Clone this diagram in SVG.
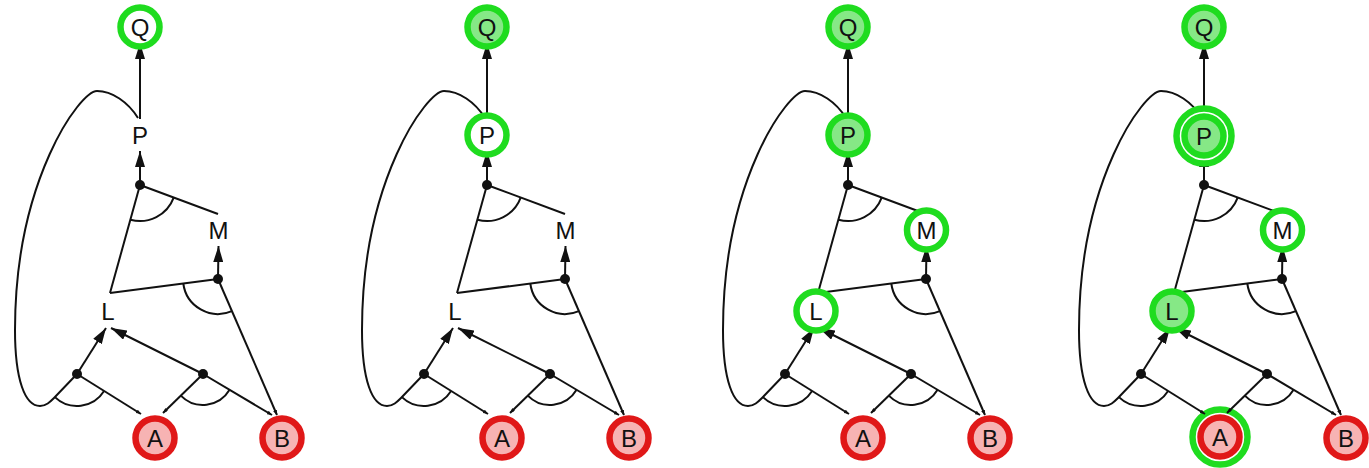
<svg xmlns="http://www.w3.org/2000/svg" width="1369" height="468" viewBox="0 0 1369 468">
<defs>
<marker id="ah" markerUnits="userSpaceOnUse" markerWidth="16" markerHeight="10" refX="16" refY="5" orient="auto"><path d="M0,0 L16,5 L0,10 z" fill="#111"/></marker>
<marker id="tm" markerUnits="userSpaceOnUse" markerWidth="5" markerHeight="4" refX="5" refY="2" orient="auto"><path d="M0,0 L5,2 L0,4 z" fill="#111"/></marker>
<style>
.edges path{fill:none;stroke:#111;stroke-width:2}
.edges circle{fill:#111}
.lbl{font-family:"Liberation Sans",Arial,sans-serif;font-size:24px;fill:#111;text-anchor:middle}
.ring{fill:#fff;stroke:#1fdc1f;stroke-width:6.5}
.fillg{fill:#86e886;stroke:#1fdc1f;stroke-width:6.5}
.red{fill:#f7b3b3;stroke:#e01818;stroke-width:6.5}
.hl{fill:#fff;stroke:#1fdc1f;stroke-width:6.5}
</style>
</defs>
<rect width="1369" height="468" fill="#fff"/>

<!-- Panel 1 -->
<g id="panel1">
<g id="p1-A"><circle class="red" cx="155" cy="438" r="19.5"/><text class="lbl" x="155" y="446.5">A</text></g>
<g id="p1-B"><circle class="red" cx="282" cy="438" r="19.5"/><text class="lbl" x="282" y="446.5">B</text></g>
<g id="p1-edges" class="edges">
<path d="M140,119 L140,43" marker-end="url(#ah)"/>
<path d="M138,118 C128,102 112,91 97,91 C80,91 15,180 15,330 C15,380 25,406 40,406 C46,406 50,402 54,398 L77,374"/>
<path d="M140,185 L140,151" marker-end="url(#ah)"/>
<path d="M110,293 L140,185"/>
<path d="M218,214 L140,185"/>
<path d="M218,279 L218.5,246" marker-end="url(#ah)"/>
<path d="M110,293 L218,279"/>
<path d="M218,279 L277,415" marker-end="url(#tm)"/>
<path d="M77,374 L106,328" marker-end="url(#ah)"/>
<path d="M203,374 L111,328" marker-end="url(#ah)"/>
<path d="M77,374 L141,414" marker-end="url(#tm)"/>
<path d="M203,374 L163,413" marker-end="url(#tm)"/>
<path d="M203,374 L272,415" marker-end="url(#tm)"/>
<path d="M54.9,397.1 A32,32 0 0 0 104.1,391"/>
<path d="M180.8,395.6 A31,31 0 0 0 229.6,389.8"/>
<path d="M183.3,283.5 A35,35 0 0 0 231.9,311.1"/>
<path d="M130.4,219.7 A36,36 0 0 0 173.7,197.6"/>
<circle cx="77" cy="374" r="5"/><circle cx="203" cy="374" r="5"/><circle cx="218" cy="279" r="5"/><circle cx="140" cy="185" r="5"/>
</g>
<g id="p1-Q"><circle class="ring" cx="140" cy="27" r="19.5"/><text class="lbl" x="140" y="35.5">Q</text></g>
<g id="p1-P"><text class="lbl" x="140" y="143.5">P</text></g>
<g id="p1-M"><text class="lbl" x="218.5" y="238.5">M</text></g>
<g id="p1-L"><text class="lbl" x="108" y="319.5">L</text></g>
</g>

<!-- Panel 2 -->
<g id="panel2" transform="translate(347,0)">
<g id="p2-A"><circle class="red" cx="155" cy="438" r="19.5"/><text class="lbl" x="155" y="446.5">A</text></g>
<g id="p2-B"><circle class="red" cx="282" cy="438" r="19.5"/><text class="lbl" x="282" y="446.5">B</text></g>
<g id="p2-edges" class="edges">
<path d="M140,119 L140,43" marker-end="url(#ah)"/>
<path d="M138,118 C128,102 112,91 97,91 C80,91 15,180 15,330 C15,380 25,406 40,406 C46,406 50,402 54,398 L77,374"/>
<path d="M140,185 L140,151" marker-end="url(#ah)"/>
<path d="M110,293 L140,185"/>
<path d="M218,214 L140,185"/>
<path d="M218,279 L218.5,246" marker-end="url(#ah)"/>
<path d="M110,293 L218,279"/>
<path d="M218,279 L277,415" marker-end="url(#tm)"/>
<path d="M77,374 L106,328" marker-end="url(#ah)"/>
<path d="M203,374 L111,328" marker-end="url(#ah)"/>
<path d="M77,374 L141,414" marker-end="url(#tm)"/>
<path d="M203,374 L163,413" marker-end="url(#tm)"/>
<path d="M203,374 L272,415" marker-end="url(#tm)"/>
<path d="M54.9,397.1 A32,32 0 0 0 104.1,391"/>
<path d="M180.8,395.6 A31,31 0 0 0 229.6,389.8"/>
<path d="M183.3,283.5 A35,35 0 0 0 231.9,311.1"/>
<path d="M130.4,219.7 A36,36 0 0 0 173.7,197.6"/>
<circle cx="77" cy="374" r="5"/><circle cx="203" cy="374" r="5"/><circle cx="218" cy="279" r="5"/><circle cx="140" cy="185" r="5"/>
</g>
<g id="p2-Q"><circle class="fillg" cx="140" cy="27" r="19.5"/><text class="lbl" x="140" y="35.5">Q</text></g>
<g id="p2-P"><circle class="ring" cx="140" cy="135" r="19.5"/><text class="lbl" x="140" y="143.5">P</text></g>
<g id="p2-M"><text class="lbl" x="218.5" y="238.5">M</text></g>
<g id="p2-L"><text class="lbl" x="108" y="319.5">L</text></g>
</g>

<!-- Panel 3 -->
<g id="panel3" transform="translate(708,0)">
<g id="p3-A"><circle class="red" cx="155" cy="438" r="19.5"/><text class="lbl" x="155" y="446.5">A</text></g>
<g id="p3-B"><circle class="red" cx="282" cy="438" r="19.5"/><text class="lbl" x="282" y="446.5">B</text></g>
<g id="p3-edges" class="edges">
<path d="M140,119 L140,43" marker-end="url(#ah)"/>
<path d="M138,118 C128,102 112,91 97,91 C80,91 15,180 15,330 C15,380 25,406 40,406 C46,406 50,402 54,398 L77,374"/>
<path d="M140,185 L140,151" marker-end="url(#ah)"/>
<path d="M110,293 L140,185"/>
<path d="M218,214 L140,185"/>
<path d="M218,279 L218.5,246" marker-end="url(#ah)"/>
<path d="M110,293 L218,279"/>
<path d="M218,279 L277,415" marker-end="url(#tm)"/>
<path d="M77,374 L106,328" marker-end="url(#ah)"/>
<path d="M203,374 L111,328" marker-end="url(#ah)"/>
<path d="M77,374 L141,414" marker-end="url(#tm)"/>
<path d="M203,374 L163,413" marker-end="url(#tm)"/>
<path d="M203,374 L272,415" marker-end="url(#tm)"/>
<path d="M54.9,397.1 A32,32 0 0 0 104.1,391"/>
<path d="M180.8,395.6 A31,31 0 0 0 229.6,389.8"/>
<path d="M183.3,283.5 A35,35 0 0 0 231.9,311.1"/>
<path d="M130.4,219.7 A36,36 0 0 0 173.7,197.6"/>
<circle cx="77" cy="374" r="5"/><circle cx="203" cy="374" r="5"/><circle cx="218" cy="279" r="5"/><circle cx="140" cy="185" r="5"/>
</g>
<g id="p3-Q"><circle class="fillg" cx="140" cy="27" r="19.5"/><text class="lbl" x="140" y="35.5">Q</text></g>
<g id="p3-P"><circle class="fillg" cx="140" cy="135" r="19.5"/><text class="lbl" x="140" y="143.5">P</text></g>
<g id="p3-M"><circle class="ring" cx="218.5" cy="230" r="19.5"/><text class="lbl" x="218.5" y="238.5">M</text></g>
<g id="p3-L"><circle class="ring" cx="108" cy="311" r="19.5"/><text class="lbl" x="108" y="319.5">L</text></g>
</g>

<!-- Panel 4 -->
<g id="panel4" transform="translate(1064,0)">
<g id="p4-A"><circle class="hl" cx="156" cy="437" r="27.5" stroke-width="6"/><circle class="red" cx="156" cy="437" r="19.5"/><text class="lbl" x="156" y="445.5">A</text></g>
<g id="p4-B"><circle class="red" cx="282" cy="438" r="19.5"/><text class="lbl" x="282" y="446.5">B</text></g>
<g id="p4-edges" class="edges">
<path d="M140,119 L140,43" marker-end="url(#ah)"/>
<path d="M138,118 C128,102 112,91 97,91 C80,91 15,180 15,330 C15,380 25,406 40,406 C46,406 50,402 54,398 L77,374"/>
<path d="M140,185 L140,151" marker-end="url(#ah)"/>
<path d="M110,293 L140,185"/>
<path d="M218,214 L140,185"/>
<path d="M218,279 L218.5,246" marker-end="url(#ah)"/>
<path d="M110,293 L218,279"/>
<path d="M218,279 L277,415" marker-end="url(#tm)"/>
<path d="M77,374 L106,328" marker-end="url(#ah)"/>
<path d="M203,374 L111,328" marker-end="url(#ah)"/>
<path d="M77,374 L141,414" marker-end="url(#tm)"/>
<path d="M203,374 L163,413" marker-end="url(#tm)"/>
<path d="M203,374 L272,415" marker-end="url(#tm)"/>
<path d="M54.9,397.1 A32,32 0 0 0 104.1,391"/>
<path d="M180.8,395.6 A31,31 0 0 0 229.6,389.8"/>
<path d="M183.3,283.5 A35,35 0 0 0 231.9,311.1"/>
<path d="M130.4,219.7 A36,36 0 0 0 173.7,197.6"/>
<circle cx="77" cy="374" r="5"/><circle cx="203" cy="374" r="5"/><circle cx="218" cy="279" r="5"/><circle cx="140" cy="185" r="5"/>
</g>
<g id="p4-Q"><circle class="fillg" cx="140" cy="27" r="19.5"/><text class="lbl" x="140" y="35.5">Q</text></g>
<g id="p4-P"><circle class="hl" cx="140" cy="136" r="27.5" stroke-width="7"/><circle class="fillg" cx="140" cy="136" r="19.5"/><text class="lbl" x="140" y="144.5">P</text></g>
<g id="p4-M"><circle class="ring" cx="218.5" cy="230" r="19.5"/><text class="lbl" x="218.5" y="238.5">M</text></g>
<g id="p4-L"><circle class="fillg" cx="108" cy="311" r="19.5"/><text class="lbl" x="108" y="319.5">L</text></g>
</g>
</svg>
